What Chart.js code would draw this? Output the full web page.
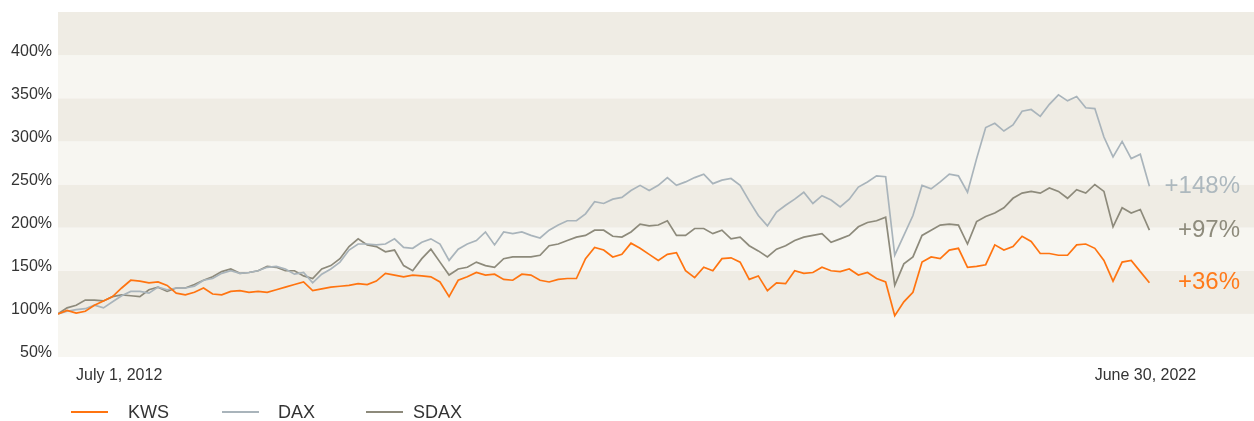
<!DOCTYPE html>
<html>
<head>
<meta charset="utf-8">
<script src="https://cdn.jsdelivr.net/npm/chart.js@4"></script>
<style>
  html, body { margin: 0; padding: 0; background: #fff; }
  #perfChart { display: block; }
</style>
</head>
<body>
<canvas id="perfChart" width="1254" height="421"></canvas>
<script>
    "use strict";

    // monthly closes, July 2012 = 100
    var seriesNames = ["KWS", "DAX", "SDAX"];
    var seriesColors = ["#ff7410", "#a9b4bb", "#8d8a7b"];
    var labelColors = ["#ff7a1a", "#adb8be", "#8e8b7c"];
    var dateLabels = ["July 1, 2012", "June 30, 2022"];
    var yTicks = [50, 100, 150, 200, 250, 300, 350, 400];

    var kws = [
        100, 104, 101, 103, 110, 115, 120, 130, 139, 138, 136, 137, 133,
        124, 122, 125, 130, 123, 122, 126, 127, 125, 126, 125, 128,
        131, 134, 137, 127, 129, 131, 132, 133, 135, 134, 138, 147,
        145, 143, 145, 144, 143, 137, 120, 139, 143, 148, 145, 146,
        140, 139, 146, 145, 139, 137, 140, 141, 141, 164, 177, 174,
        166, 169, 182, 176, 169, 162, 169, 171, 150, 142, 154, 150,
        164, 165, 160, 140, 144, 127, 136, 135, 150, 147, 148, 154,
        150, 149, 152, 145, 148, 141, 137, 98, 114, 125, 160, 166,
        164, 174, 176, 154, 155, 157, 180, 174, 178, 190, 184, 170,
        170, 168, 168, 180, 181, 176, 162, 138, 160, 162, 149, 136
    ];
    var dax = [
        100, 103, 105, 106, 110, 107, 114, 121, 126, 126, 124, 131, 128,
        130, 130, 132, 139, 141, 147, 150, 147, 148, 150, 154, 155,
        152, 146, 148, 136, 146, 152, 160, 174, 181, 181, 180, 181,
        187, 177, 176, 183, 187, 181, 162, 175, 181, 185, 195, 180,
        195, 193, 195, 191, 188, 197, 203, 208, 208, 216, 230, 228,
        233, 235, 243, 249, 243, 249, 258, 249, 253, 258, 262, 251,
        255, 257, 249, 231, 214, 202, 218, 226, 233, 241, 228, 237,
        232, 224, 233, 247, 253, 260, 259, 168, 191, 214, 249, 245,
        253, 262, 260, 241, 280, 316, 321, 312, 319, 335, 337, 329,
        343, 354, 347, 352, 339, 338, 305, 282, 300, 280, 285, 248
    ];
    var sdax = [
        100, 107, 110, 116, 116, 115, 120, 122, 121, 120, 128, 131, 126,
        130, 130, 134, 139, 143, 149, 152, 147, 148, 150, 155, 154,
        150, 150, 144, 141, 152, 156, 164, 178, 187, 180, 178, 172,
        174, 156, 150, 164, 175, 160, 145, 152, 154, 160, 156, 154,
        164, 166, 166, 166, 168, 179, 181, 185, 189, 191, 197, 197,
        190, 189, 195, 204, 202, 203, 208, 191, 191, 199, 199, 193,
        197, 187, 189, 179, 173, 166, 175, 179, 185, 189, 191, 193,
        183, 187, 191, 201, 206, 208, 212, 133, 158, 166, 191, 197,
        203, 204, 203, 181, 207, 213, 217, 223, 234, 240, 242, 240,
        246, 242, 234, 244, 240, 250, 242, 201, 223, 217, 221, 197
    ];

    var allSeries = [kws, dax, sdax];
    var lastIndex = kws.length - 1;

    var FONT = "'Liberation Sans', Arial, Helvetica, sans-serif";

    // alternating horizontal bands behind the lines
    var bandsPlugin = {
        id: "bands",
        beforeDatasetsDraw: function (chart) {
            var ctx = chart.ctx;
            var area = chart.chartArea;
            var y = chart.scales.y;
            ctx.save();
            for (var v = 50, i = 0; v < 450; v += 50, i++) {
                var top = y.getPixelForValue(v + 50);
                var bottom = y.getPixelForValue(v);
                ctx.fillStyle = i % 2 === 0 ? "#f7f6f1" : "#efece4";
                ctx.fillRect(area.left, top, area.right - area.left, bottom - top);
            }
            ctx.restore();
        },
    };

    // end labels, x dates and legend
    var textPlugin = {
        id: "texts",
        afterDraw: function (chart) {
            var ctx = chart.ctx;
            var area = chart.chartArea;
            var x = chart.scales.x;
            var y = chart.scales.y;
            ctx.save();

            ctx.font = "24px " + FONT;
            ctx.textAlign = "right";
            ctx.textBaseline = "middle";
            allSeries.forEach(function (s, i) {
                var change = s[lastIndex] - 100;
                ctx.fillStyle = labelColors[i];
                ctx.fillText("+" + change + "%", area.right - 14, y.getPixelForValue(s[lastIndex]));
            });

            ctx.font = "16px " + FONT;
            ctx.fillStyle = "#333";
            ctx.textAlign = "left";
            ctx.fillText(dateLabels[0], x.getPixelForValue(0) + 18, area.bottom + 19);
            ctx.textAlign = "center";
            ctx.fillText(dateLabels[1], x.getPixelForValue(lastIndex) - 4, area.bottom + 19);

            // legend: line swatch then name, fixed slots like the source
            ctx.font = "18px " + FONT;
            ctx.textAlign = "left";
            var slotX = [71, 222, 366];
            var textGap = [57, 56, 47];
            var ly = area.bottom + 55;
            seriesNames.forEach(function (name, i) {
                ctx.strokeStyle = seriesColors[i];
                ctx.lineWidth = 2;
                ctx.beginPath();
                ctx.moveTo(slotX[i], ly);
                ctx.lineTo(slotX[i] + 37, ly);
                ctx.stroke();
                ctx.fillStyle = "#333";
                ctx.fillText(name, slotX[i] + textGap[i], ly + 1);
            });
            ctx.restore();
        },
    };

    var datasets = seriesNames.map(function (name, i) {
        return {
            label: name,
            data: allSeries[i].map(function (v, m) { return { x: m, y: v }; }),
            borderColor: seriesColors[i],
            borderWidth: 1.7,
            pointRadius: 0,
            tension: 0,
            fill: false,
        };
    });

    var ctx = document.getElementById("perfChart").getContext("2d");
    new Chart(ctx, {
        type: "line",
        data: { datasets: datasets },
        options: {
            responsive: false,
            animation: false,
            layout: { padding: { top: 12, bottom: 64, left: 0, right: 0 } },
            plugins: {
                legend: { display: false },
                tooltip: { enabled: false },
            },
            scales: {
                x: {
                    type: "linear",
                    min: 0,
                    max: 131.5,
                    display: false,
                },
                y: {
                    min: 50,
                    max: 450,
                    afterFit: function (scale) {
                        scale.width = 58;
                        scale.paddingTop = 0;
                        scale.paddingBottom = 0;
                    },
                    afterBuildTicks: function (scale) {
                        scale.ticks = yTicks.map(function (v) { return { value: v }; });
                    },
                    grid: { display: false, drawTicks: false },
                    border: { display: false },
                    ticks: {
                        padding: 6,
                        labelOffset: -4,
                        color: "#333",
                        font: { size: 16, family: FONT },
                        callback: function (v) { return v + "%"; },
                    },
                },
            },
        },
        plugins: [bandsPlugin, textPlugin],
    });
</script>
</body>
</html>
